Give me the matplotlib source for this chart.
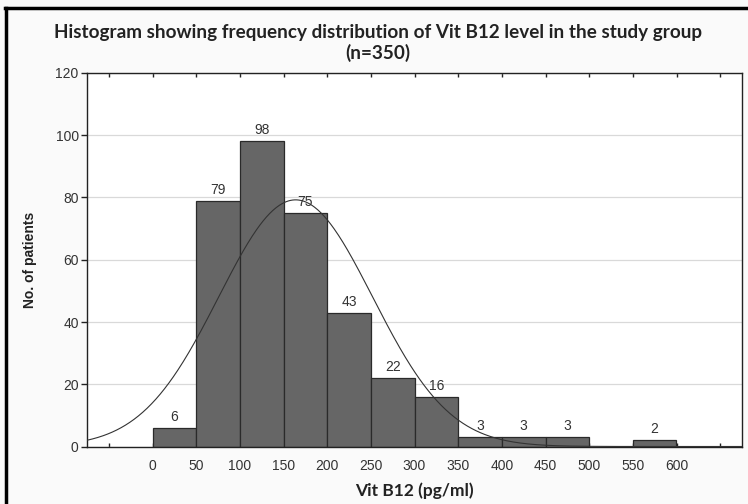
import numpy as np
import matplotlib
matplotlib.use("Agg")
import matplotlib.pyplot as plt
from matplotlib.lines import Line2D

# ---- data ----
bin_edges = [0, 50, 100, 150, 200, 250, 300, 350, 400, 450, 500, 550, 600]
counts = [6, 79, 98, 75, 43, 22, 16, 3, 3, 3, 0, 2]
fit_mean = 163.9
fit_sd = 88.1
n_total = 350
xtick_values = [-50, 0, 50, 100, 150, 200, 250, 300, 350, 400, 450, 500, 550, 600, 650]
xtick_labels = ["", "0", "50", "100", "150", "200", "250", "300", "350", "400",
                "450", "500", "550", "600", ""]
ytick_values = [0, 20, 40, 60, 80, 100, 120]

title_text = "Histogram showing frequency distribution of Vit B12 level in the study group\n(n=350)"
xlabel_text = "Vit B12 (pg/ml)"
ylabel_text = "No. of patients"

W, H = 748, 504
fig = plt.figure(figsize=(W / 100, H / 100), dpi=100)
fig.patch.set_facecolor("#fafafa")

ax_l, ax_r, ax_t, ax_b = 87, 742, 73, 446.5
ax = fig.add_axes([ax_l / W, 1 - ax_b / H, (ax_r - ax_l) / W, (ax_b - ax_t) / H])
ax.set_facecolor("white")

left = np.array(bin_edges[:-1], dtype=float)
widths = np.diff(bin_edges)
ax.bar(left, counts, width=widths, align="edge", color="#666666",
       edgecolor="#2a2a2a", linewidth=0.9, zorder=2)

for x0, w, c in zip(left, widths, counts):
    if c > 0:
        ax.text(x0 + w / 2, c + 1.3, str(c), ha="center", va="bottom",
                fontsize=10, color="#333333", family="Liberation Sans", zorder=4)

# fitted normal curve
xs = np.linspace(-75, 675, 600)
bw = bin_edges[1] - bin_edges[0]
ys = n_total * bw / (fit_sd * np.sqrt(2 * np.pi)) * np.exp(-0.5 * ((xs - fit_mean) / fit_sd) ** 2)
ax.plot(xs, ys, color="#333333", linewidth=0.8, zorder=3)

ax.set_xlim(-75, 675)
ax.set_ylim(0, 120)
ax.set_xticks(xtick_values)
ax.set_xticklabels(xtick_labels)
ax.set_yticks(ytick_values)
ax.yaxis.grid(True, color="#d9d9d9", linewidth=0.9, zorder=0)
ax.set_axisbelow(True)

ax.tick_params(axis="x", direction="in", top=True, length=3, width=1, color="#222222",
               labelsize=10, labelcolor="#333333", pad=9)
ax.tick_params(axis="y", which="both", left=True, direction="out", length=4, width=1,
               color="#222222", labelsize=10, labelcolor="#333333", pad=2)
for lab in ax.get_xticklabels() + ax.get_yticklabels():
    lab.set_family("Liberation Sans")
for sp in ax.spines.values():
    sp.set_color("#222222")
    sp.set_linewidth(1.0)

ax.set_xlabel(xlabel_text, fontsize=12.5, fontweight="bold", family="Lato",
              color="#222222", labelpad=7)
ax.set_ylabel(ylabel_text, fontsize=10, fontweight="bold", family="Liberation Sans",
              color="#222222", labelpad=13)

fig.text(378 / W, 1 - 43 / H, title_text, ha="center", va="center", fontsize=13.6,
         fontweight="bold", family="Lato", color="#222222", linespacing=1.15)

# frame lines (left and top)
fig.add_artist(Line2D([5.5 / W, 5.5 / W], [0, 1 - 8 / H], transform=fig.transFigure,
                      color="black", linewidth=2.5))
fig.add_artist(Line2D([4.5 / W, 1], [1 - 8 / H, 1 - 8 / H], transform=fig.transFigure,
                      color="black", linewidth=2.5))

fig.savefig("out.png", dpi=100, facecolor=fig.get_facecolor())
